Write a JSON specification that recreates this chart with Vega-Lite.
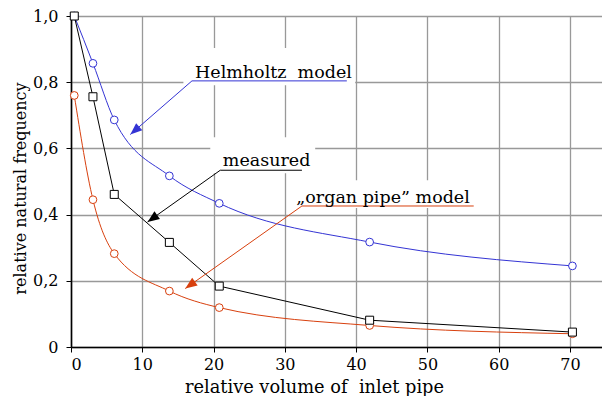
{
"$schema": "https://vega.github.io/schema/vega-lite/v6.json",
"width": 531, "height": 331,
"autosize": {"type": "none"},
"padding": {"left": 71, "top": 16, "right": 0, "bottom": 49},
"background": "white",
"config": {"view": {"stroke": null}, "font": "DejaVu Serif"},
"datasets": {
"series": [
{"series": "H", "x": 0.46, "y": 1.0}, {"series": "H", "x": 3.08, "y": 0.857}, {"series": "H", "x": 6.07, "y": 0.686}, {"series": "H", "x": 13.8, "y": 0.517}, {"series": "H", "x": 20.8, "y": 0.434}, {"series": "H", "x": 41.9, "y": 0.317}, {"series": "H", "x": 70.35, "y": 0.245},
{"series": "M", "x": 0.46, "y": 1.0}, {"series": "M", "x": 3.08, "y": 0.756}, {"series": "M", "x": 6.07, "y": 0.461}, {"series": "M", "x": 13.8, "y": 0.316}, {"series": "M", "x": 20.8, "y": 0.184}, {"series": "M", "x": 41.9, "y": 0.081}, {"series": "M", "x": 70.35, "y": 0.045},
{"series": "O", "x": 0.46, "y": 0.76}, {"series": "O", "x": 3.08, "y": 0.445}, {"series": "O", "x": 6.07, "y": 0.282}, {"series": "O", "x": 13.8, "y": 0.169}, {"series": "O", "x": 20.8, "y": 0.119}, {"series": "O", "x": 41.9, "y": 0.065}, {"series": "O", "x": 70.35, "y": 0.04}
],
"boxes": [
{"x": 15.77, "x2": 39.87, "y": 0.903, "y2": 0.791},
{"x": 19.54, "x2": 34.26, "y": 0.634, "y2": 0.525},
{"x": 30.76, "x2": 57.1, "y": 0.504, "y2": 0.42}
],
"segs": [
{"series": "H", "x": 16.97, "y": 0.804, "x2": 38.7, "y2": 0.804},
{"series": "H", "x": 16.97, "y": 0.804, "x2": 8.32, "y2": 0.642},
{"series": "M", "x": 20.94, "y": 0.534, "x2": 32.4, "y2": 0.534},
{"series": "M", "x": 20.94, "y": 0.534, "x2": 10.74, "y2": 0.378},
{"series": "O", "x": 32.4, "y": 0.426, "x2": 56.5, "y2": 0.426},
{"series": "O", "x": 32.4, "y": 0.426, "x2": 16.03, "y2": 0.1766}
],
"tips": [
{"series": "H", "x": 8.32, "y": 0.642},
{"series": "M", "x": 10.74, "y": 0.378},
{"series": "O", "x": 16.03, "y": 0.1766}
],
"labels": [
{"series": "H", "x": 17.4, "y": 0.813, "text": "Helmholtz \u00a0model"},
{"series": "M", "x": 21.3, "y": 0.546, "text": "measured"},
{"series": "O", "x": 31.6, "y": 0.435, "text": "„organ pipe” model"}
]
},
"encoding": {
"x": {"field": "x", "type": "quantitative",
 "scale": {"domain": [0, 74.5], "nice": false, "zero": false},
 "axis": {"values": [0, 10, 20, 30, 40, 50, 60, 70], "title": "relative volume of \u00a0inlet pipe",
  "grid": true, "gridColor": "#999999", "gridWidth": 1.3, "gridOpacity": 1,
  "domainColor": "#000000", "domainWidth": 1.6, "tickColor": "#000000", "tickSize": 5, "tickWidth": 1,
  "labelFont": "DejaVu Serif", "labelFontSize": 16, "labelColor": "#000000", "labelPadding": 4,
  "titleFont": "DejaVu Serif", "titleFontSize": 17.8, "titleFontWeight": "normal", "titleColor": "#000000",
  "titleX": 243, "titleY": 45, "titleBaseline": "alphabetic", "titleAlign": "center", "titleAnchor": null}},
"y": {"field": "y", "type": "quantitative",
 "scale": {"domain": [0, 1], "nice": false},
 "axis": {"values": [0, 0.2, 0.4, 0.6, 0.8, 1.0], "title": "relative natural frequency",
  "labelExpr": "datum.value == 0 ? '0' : replace(format(datum.value, '.1f'), '.', ',')",
  "grid": true, "gridColor": "#999999", "gridWidth": 1.3, "gridOpacity": 1,
  "domainColor": "#000000", "domainWidth": 1.6, "tickColor": "#000000", "tickSize": 5, "tickWidth": 1,
  "labelFont": "DejaVu Serif", "labelFontSize": 16, "labelColor": "#000000", "labelPadding": 8,
  "titleFont": "DejaVu Serif", "titleFontSize": 16, "titleFontWeight": "normal", "titleColor": "#000000",
  "titleX": -46, "titleY": 172, "titleBaseline": "alphabetic", "titleAlign": "center", "titleAngle": -90, "titleAnchor": null}}
},
"layer": [
{"data": {"name": "boxes"}, "mark": {"type": "rect", "fill": "white", "stroke": null},
 "encoding": {"x2": {"field": "x2"}, "y2": {"field": "y2"}}},
{"data": {"name": "series"}, "transform": [{"filter": "datum.series == 'H'"}],
 "mark": {"type": "line", "interpolate": "monotone", "color": "#3434d4", "strokeWidth": 1}},
{"data": {"name": "series"}, "transform": [{"filter": "datum.series == 'O'"}],
 "mark": {"type": "line", "interpolate": "monotone", "color": "#d8400e", "strokeWidth": 1}},
{"data": {"name": "series"}, "transform": [{"filter": "datum.series == 'M'"}],
 "mark": {"type": "line", "interpolate": "linear", "color": "#000000", "strokeWidth": 1}},
{"data": {"name": "series"}, "transform": [{"filter": "datum.series != 'M'"}],
 "mark": {"type": "point", "shape": "circle", "filled": false, "fill": "white", "fillOpacity": 1, "size": 60, "strokeWidth": 1, "opacity": 1},
 "encoding": {"stroke": {"field": "series", "type": "nominal", "scale": {"domain": ["H", "O"], "range": ["#3434d4", "#d8400e"]}, "legend": null}}},
{"data": {"name": "series"}, "transform": [{"filter": "datum.series == 'M'"}],
 "mark": {"type": "point", "shape": "square", "filled": false, "fill": "white", "fillOpacity": 1, "size": 64, "strokeWidth": 1, "stroke": "#000000", "opacity": 1}},
{"data": {"name": "segs"}, "mark": {"type": "rule", "strokeWidth": 1},
 "encoding": {"x2": {"field": "x2"}, "y2": {"field": "y2"},
  "color": {"field": "series", "type": "nominal", "scale": {"domain": ["H", "M", "O"], "range": ["#3434d4", "#000000", "#d8400e"]}, "legend": null}}},
{"data": {"name": "tips"}, "transform": [{"filter": "datum.series == 'H'"}],
 "mark": {"type": "point", "shape": "M0,0 L0.4,1 L-0.4,1 Z", "filled": true, "size": 560, "angle": 229, "color": "#3434d4", "opacity": 1, "strokeWidth": 0}},
{"data": {"name": "tips"}, "transform": [{"filter": "datum.series == 'M'"}],
 "mark": {"type": "point", "shape": "M0,0 L0.4,1 L-0.4,1 Z", "filled": true, "size": 560, "angle": 234.6, "color": "#000000", "opacity": 1, "strokeWidth": 0}},
{"data": {"name": "tips"}, "transform": [{"filter": "datum.series == 'O'"}],
 "mark": {"type": "point", "shape": "M0,0 L0.4,1 L-0.4,1 Z", "filled": true, "size": 560, "angle": 234.7, "color": "#d8400e", "opacity": 1, "strokeWidth": 0}},
{"data": {"name": "labels"}, "mark": {"type": "text", "align": "left", "baseline": "alphabetic", "font": "DejaVu Serif", "fontSize": 17.5, "color": "#000000"},
 "encoding": {"text": {"field": "text"}}}
]
}
